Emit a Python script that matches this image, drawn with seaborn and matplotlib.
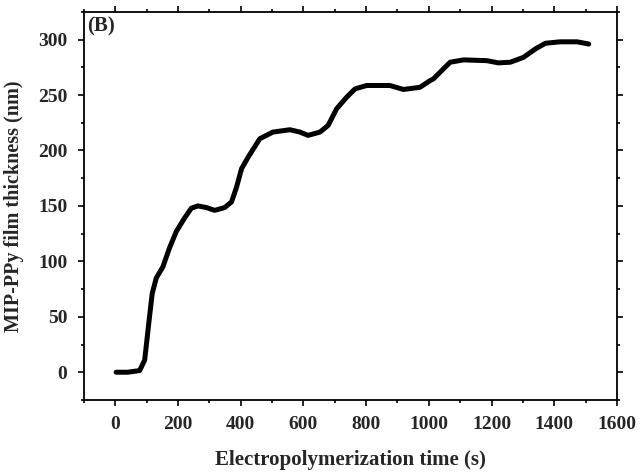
import matplotlib
matplotlib.use("Agg")
import matplotlib.pyplot as plt
import seaborn as sns
import pandas as pd
from matplotlib.ticker import MultipleLocator

time_s = [3, 40, 78, 94, 107, 118, 131, 152, 173, 195, 221, 243, 264, 291, 317, 349,
          371, 387, 403, 424, 461, 503, 557, 589, 615, 653, 679, 706, 738, 765, 802,
          876, 919, 972, 1004, 1015, 1041, 1068, 1111, 1185, 1222, 1260, 1302, 1340,
          1372, 1419, 1473, 1510]
thickness_nm = [0, 0, 1.5, 11, 44, 71, 85, 95, 112, 127, 139, 148, 150, 148.5, 146, 148.5,
                153.6, 167, 183.6, 194, 210.6, 216.6, 218.7, 216.6, 213.6, 216.6, 222.6,
                237.6, 248, 255.6, 258.6, 258.6, 255, 257, 263, 264.6, 272, 279.6, 281.7,
                281, 279, 279.6, 284, 291.6, 296.7, 298, 298, 296]

df = pd.DataFrame({"t": time_s, "h": thickness_nm})

sns.set_style("ticks")
plt.rcParams["font.family"] = ["Liberation Serif", "DejaVu Serif"]
plt.rcParams["font.weight"] = "bold"
plt.rcParams["axes.labelweight"] = "bold"

fig = plt.figure(figsize=(6.4, 4.75), dpi=100)
ax = fig.add_axes([0.131, 0.158, 0.833, 0.817])
sns.lineplot(data=df, x="t", y="h", ax=ax, color="black", linewidth=3.6,
             solid_capstyle="round", solid_joinstyle="round")

ax.set_xlim(-100, 1600)
ax.set_ylim(-25, 325)
ax.set_xticks(list(range(0, 1601, 200)))
ax.set_yticks(list(range(0, 301, 50)))
ax.xaxis.set_minor_locator(MultipleLocator(100))
ax.yaxis.set_minor_locator(MultipleLocator(25))
ax.tick_params(which="both", direction="out", top=True, right=True, width=1.2,
               labeltop=False, labelright=False, labelsize=14, color="black")
ax.tick_params(which="major", length=4.3, pad=7.5)
ax.tick_params(which="minor", length=2.5)
for s in ax.spines.values():
    s.set_linewidth(1.3)
    s.set_color("black")
    s.set_visible(True)
for lab in ax.get_xticklabels() + ax.get_yticklabels():
    lab.set_fontweight("bold")

ax.set_xlabel("Electropolymerization time (s)", fontsize=15, fontweight="bold", labelpad=12)
ax.set_ylabel("MIP-PPy film thickness (nm)", fontsize=14.5, fontweight="bold", labelpad=10)
ax.text(0.006, 0.988, "(B)", transform=ax.transAxes, ha="left", va="top",
        fontsize=15, fontweight="bold")

fig.savefig("out.png", dpi=100)
